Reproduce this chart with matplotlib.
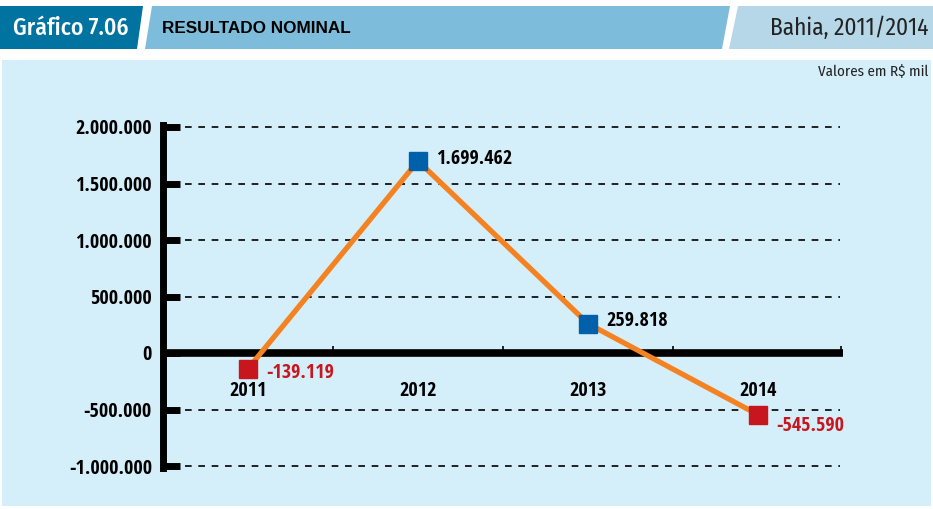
import numpy as np
import matplotlib.pyplot as plt
from matplotlib.patches import Polygon, Rectangle

# data
years = ['2011', '2012', '2013', '2014']
values = [-139119, 1699462, 259818, -545590]
value_labels = ['-139.119', '1.699.462', '259.818', '-545.590']
yticks = [-1000000, -500000, 0, 500000, 1000000, 1500000, 2000000]
ytick_labels = ['-1.000.000', '-500.000', '0', '500.000', '1.000.000', '1.500.000', '2.000.000']

# vertical nudge of each value label (points)
label_dy = [-3, 1.5, 2, -8.5]

W, H = 933, 509
bold_cond = ['Open Sans Condensed', 'Fira Sans Condensed', 'DejaVu Sans']
cond = ['Fira Sans Condensed', 'DejaVu Sans']

fig = plt.figure(figsize=(W / 100, H / 100), dpi=100)
fig.patch.set_facecolor('white')

# background / header in pixel coordinates
bg = fig.add_axes([0, 0, 1, 1])
bg.set_xlim(0, W)
bg.set_ylim(H, 0)
bg.axis('off')

bg.add_patch(Polygon([(0, 6), (143, 6), (137, 49), (0, 49)], closed=True,
                     facecolor='#0073A0', edgecolor='none'))
bg.add_patch(Polygon([(152, 6), (730, 6), (722, 49), (145, 49)], closed=True,
                     facecolor='#7DBCDB', edgecolor='none'))
bg.add_patch(Polygon([(738, 6), (933, 6), (933, 49), (729, 49)], closed=True,
                     facecolor='#B5D7E7', edgecolor='none'))
bg.add_patch(Rectangle((2, 60), 929, 446, facecolor='#D4EEFA', edgecolor='none'))

bg.text(13, 28, 'Gráfico 7.06', color='white', fontsize=17, family=cond,
        fontweight='medium', va='center', ha='left')
bg.text(162, 28, 'RESULTADO NOMINAL', color='black', fontsize=12.3,
        family=['Liberation Sans', 'DejaVu Sans'], fontweight='bold', va='center', ha='left')
bg.text(928, 28, 'Bahia, 2011/2014', color='#222222', fontsize=16.8, family=cond,
        va='center', ha='right')
bg.text(928, 72, 'Valores em R$ mil', color='#222222', fontsize=10.8, family=cond,
        va='center', ha='right')

# chart axes: x 0..4 -> px 163..843, y scale 113 px per million, zero at 353
ymin, ymax = -1020000, 2020000
top_px = 353 - ymax / 1e6 * 113
bot_px = 353 - ymin / 1e6 * 113
ax = fig.add_axes([163 / W, (H - bot_px) / H, 680 / W, (bot_px - top_px) / H])
ax.set_facecolor('none')
ax.set_xlim(0, 4)
ax.set_ylim(ymin, ymax)

for s in ['top', 'right', 'bottom']:
    ax.spines[s].set_visible(False)
ax.spines['left'].set_linewidth(5)
ax.spines['left'].set_color('black')

ax.set_yticks(yticks)
ax.set_yticklabels(ytick_labels, family=bold_cond, fontweight='bold', fontsize=14.5)
ax.tick_params(axis='y', direction='in', length=12, width=5, pad=8, color='black')
ax.set_xticks([])

# dashed grid
for t in yticks:
    if t != 0:
        ax.plot([0.13, 3.98], [t, t], color='black', lw=1.2, ls=(0, (4, 4)), zorder=1)

# zero line with small category ticks
ax.axhline(0, color='black', lw=5.5, zorder=2)
ax.vlines([1, 2, 3, 3.99], 0, 60000, color='black', lw=1.2, zorder=2)

xs = np.arange(len(years)) + 0.5
ax.plot(xs, values, color='#F58220', lw=3.8, zorder=3, solid_capstyle='butt')
for x, v, lab, dy in zip(xs, values, value_labels, label_dy):
    col = '#0060AA' if v >= 0 else '#C8161E'
    ax.plot(x, v, marker='s', ms=12.5, color=col, mec=col, zorder=4, ls='none')
    ax.annotate(lab, (x, v), xytext=(13, dy), textcoords='offset points',
                ha='left', va='center', fontsize=14.5, fontweight='bold',
                family=bold_cond, color='black' if v >= 0 else '#C8161E', zorder=5)

for x, y in zip(xs, years):
    ax.annotate(y, (x, 0), xytext=(0, -27), textcoords='offset points',
                ha='center', va='center', fontsize=14.5, fontweight='bold', family=bold_cond)

fig.savefig('out.png', dpi=100)
